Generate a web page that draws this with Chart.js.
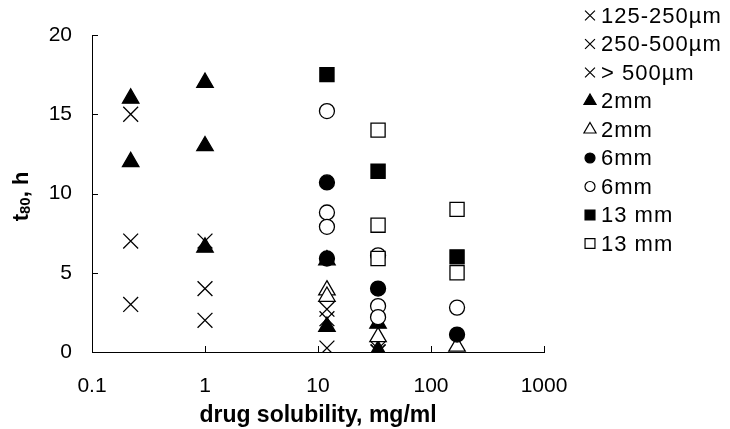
<!DOCTYPE html>
<html>
<head>
<meta charset="utf-8">
<script src="https://cdn.jsdelivr.net/npm/chart.js@4.4.0/dist/chart.umd.min.js"></script>
<style>
  html, body { margin: 0; padding: 0; background: #fff; }
  #chart { display: block; }
</style>
</head>
<body>
<canvas id="chart" width="730" height="429"></canvas>
<script>
"use strict";

var FONT = '"Liberation Sans", Arial, sans-serif';

var xTicks = [0.1, 1, 10, 100, 1000];
var yTicks = [0, 5, 10, 15, 20];

var seriesNames = ['125-250µm', '250-500µm', '> 500µm', '2mm', '2mm', '6mm', '6mm', '13 mm', '13 mm'];

// drug solubility (mg/ml) and t80 (h), one pair of arrays per series
var fine_x = [0.22, 1, 12, 34];
var fine_y = [3, 2, 0.25, 0];
var medium_x = [0.22, 1, 12, 34];
var medium_y = [7, 4, 2.1, 0];
var coarse_x = [0.22, 1, 12, 34];
var coarse_y = [15, 7, 2.7, 0.2];
var mini2Filled_x = [0.22, 0.22, 1, 1, 1, 12, 12, 34, 34];
var mini2Filled_y = [16, 12, 17, 13, 6.6, 5.8, 1.6, 1.8, 0.1];
var mini2Open_x = [12, 12, 34, 170];
var mini2Open_y = [3.9, 3.5, 0.95, 0.35];
var tab6Filled_x = [12, 12, 34, 170];
var tab6Filled_y = [10.7, 5.9, 4.0, 1.1];
var tab6Open_x = [12, 12, 12, 34, 34, 34, 170];
var tab6Open_y = [15.2, 8.8, 7.9, 6.1, 2.9, 2.2, 2.8];
var tab13Filled_x = [12, 34, 170];
var tab13Filled_y = [17.5, 11.4, 6.0];
var tab13Open_x = [34, 34, 34, 170, 170];
var tab13Open_y = [14.0, 8.0, 5.9, 9.0, 5.0];

var seriesX = [fine_x, medium_x, coarse_x, mini2Filled_x, mini2Open_x, tab6Filled_x, tab6Open_x, tab13Filled_x, tab13Open_x];
var seriesY = [fine_y, medium_y, coarse_y, mini2Filled_y, mini2Open_y, tab6Filled_y, tab6Open_y, tab13Filled_y, tab13Open_y];

// marker look per series
var markerStyle = ['crossRot', 'crossRot', 'crossRot', 'triangle', 'triangle', 'circle', 'circle', 'rect', 'rect'];
var markerFill = ['#000', '#000', '#000', '#000', '#fff', '#000', '#fff', '#000', '#fff'];
var markerRadius = [10.5, 10.5, 10.5, 9.5, 9.5, 7.5, 7.5, 10, 10];
var legendRadius = [7, 7, 7, 7, 7, 5, 5, 7, 7];

function points(xs, ys) {
  return xs.map(function(x, i) { return { x: x, y: ys[i] }; });
}

var datasets = seriesNames.map(function(name, i) {
  return {
    label: name,
    data: points(seriesX[i], seriesY[i]),
    pointStyle: markerStyle[i],
    pointRadius: markerRadius[i],
    backgroundColor: markerFill[i],
    borderColor: '#000',
    pointBorderWidth: 1.3,
    order: seriesNames.length - i
  };
});

// ticks pointing into the plot, like the original
var innerTicks = {
  id: 'innerTicks',
  beforeDatasetsDraw: function(chart) {
    var ctx = chart.ctx, sx = chart.scales.x, sy = chart.scales.y;
    ctx.save();
    ctx.strokeStyle = '#000';
    ctx.lineWidth = 1;
    ctx.beginPath();
    xTicks.forEach(function(v) {
      var px = Math.round(sx.getPixelForValue(v)) + 0.5;
      ctx.moveTo(px, sy.bottom);
      ctx.lineTo(px, sy.bottom - 6);
    });
    yTicks.forEach(function(v) {
      var py = Math.round(sy.getPixelForValue(v)) + 0.5;
      ctx.moveTo(sx.left, py);
      ctx.lineTo(sx.left + 6, py);
    });
    ctx.stroke();
    ctx.restore();
  }
};

// y title with a subscript
var yTitle = {
  id: 'yTitle',
  afterDraw: function(chart) {
    var ctx = chart.ctx, area = chart.chartArea;
    var big = 'bold 22px ' + FONT, small = 'bold 15px ' + FONT;
    ctx.save();
    ctx.translate(22, (area.top + area.bottom) / 2 + 3);
    ctx.rotate(-Math.PI / 2);
    ctx.fillStyle = '#000';
    ctx.textBaseline = 'middle';
    ctx.textAlign = 'left';
    ctx.font = big;
    var w1 = ctx.measureText('t').width, w3 = ctx.measureText(', h').width;
    ctx.font = small;
    var w2 = ctx.measureText('80').width;
    var sx = -(w1 + w2 + w3) / 2;
    ctx.font = big;
    ctx.fillText('t', sx, 0);
    ctx.font = small;
    ctx.fillText('80', sx + w1, 4);
    ctx.font = big;
    ctx.fillText(', h', sx + w1 + w2, 0);
    ctx.restore();
  }
};

var sideLegend = {
  id: 'sideLegend',
  afterDraw: function(chart) {
    var ctx = chart.ctx;
    ctx.save();
    chart.data.datasets.forEach(function(ds, i) {
      var cy = 15.5 + i * 28.5;
      ctx.fillStyle = ds.backgroundColor;
      ctx.strokeStyle = '#000';
      ctx.lineWidth = 1.2;
      Chart.helpers.drawPoint(ctx, { pointStyle: ds.pointStyle, radius: legendRadius[i], borderWidth: 1.2, rotation: 0 }, 590, cy);
      ctx.fillStyle = '#000';
      ctx.font = '22px ' + FONT;
      ctx.letterSpacing = '1px';
      ctx.textAlign = 'left';
      ctx.textBaseline = 'middle';
      ctx.fillText(ds.label, 601, cy + 1);
    });
    ctx.restore();
  }
};

new Chart(document.getElementById('chart'), {
  type: 'scatter',
  data: { datasets: datasets },
  plugins: [innerTicks, yTitle, sideLegend],
  options: {
    responsive: false,
    animation: false,
    events: [],
    devicePixelRatio: 1,
    layout: { padding: { top: 35, right: 186, left: 0, bottom: 0 } },
    plugins: {
      legend: { display: false },
      tooltip: { enabled: false }
    },
    scales: {
      x: {
        type: 'logarithmic',
        min: 0.1,
        max: 1000,
        afterBuildTicks: function(scale) {
          scale.ticks = xTicks.map(function(v) { return { value: v }; });
        },
        afterFit: function(scale) { scale.height = 77; },
        grid: { display: false, drawTicks: false },
        border: { display: true, color: '#000', width: 1 },
        ticks: {
          color: '#000',
          font: { family: FONT, size: 21 },
          padding: 22,
          maxRotation: 0,
          callback: function(v) { return String(v); }
        },
        title: {
          display: true,
          text: 'drug solubility, mg/ml',
          color: '#000',
          font: { family: FONT, size: 23, weight: 'bold' },
          padding: { top: 0, bottom: 0 }
        }
      },
      y: {
        min: 0,
        max: 20,
        afterBuildTicks: function(scale) {
          scale.ticks = yTicks.map(function(v) { return { value: v }; });
        },
        afterFit: function(scale) { scale.width = 92; },
        grid: { display: false, drawTicks: false },
        border: { display: true, color: '#000', width: 1 },
        ticks: {
          color: '#000',
          font: { family: FONT, size: 21 },
          padding: 20
        }
      }
    }
  }
});
</script>
</body>
</html>
